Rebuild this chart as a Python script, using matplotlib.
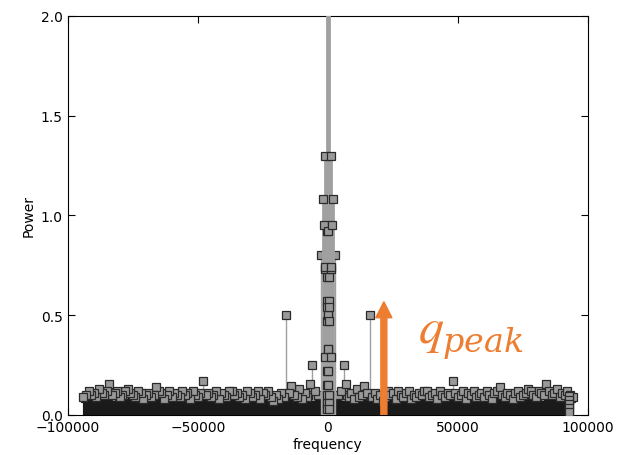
import matplotlib
matplotlib.use('Agg')
import matplotlib.pyplot as plt
import numpy as np

plt.rcParams['xtick.direction'] = 'in'
plt.rcParams['ytick.direction'] = 'in'
plt.rcParams['xtick.top'] = True
plt.rcParams['ytick.right'] = True

# positive half of the spectrum (it is mirrored to negative frequencies)
dc_power = 4.0
core_freq = [100, 120, 150, 180, 200, 220, 250, 280, 300, 320, 350, 380, 400, 450,
             1000, 1100, 1200, 1300, 1600, 1900]
core_pow = [2.6, 0.33, 0.50, 0.22, 0.92, 0.15, 0.69, 0.10, 0.57, 0.06, 0.54, 0.03, 0.47, 2.3,
            0.73, 1.30, 0.29, 0.74, 0.95, 1.08]
side_freq = [2800]
side_pow = [0.80]

noise_freq = list(range(4000, 95000, 1000))
noise_pow = [0.10, 0.12, 0.25, 0.155, 0.09, 0.11, 0.08, 0.13, 0.09, 0.10,
             0.145, 0.11, 0.50, 0.09, 0.11, 0.08, 0.10, 0.07, 0.09, 0.12,
             0.10, 0.11, 0.08, 0.12, 0.10, 0.09, 0.11, 0.12, 0.08, 0.10,
             0.09, 0.11, 0.10, 0.12, 0.12, 0.09, 0.10, 0.11, 0.08, 0.12,
             0.10, 0.09, 0.11, 0.10, 0.17, 0.11, 0.09, 0.10, 0.12, 0.08,
             0.11, 0.10, 0.12, 0.09, 0.10, 0.11, 0.09, 0.12, 0.10, 0.08,
             0.11, 0.12, 0.14, 0.10, 0.09, 0.11, 0.10, 0.08, 0.11, 0.12,
             0.09, 0.10, 0.11, 0.13, 0.12, 0.10, 0.09, 0.12, 0.11, 0.10,
             0.155, 0.12, 0.10, 0.11, 0.13, 0.09, 0.11, 0.10, 0.12, 0.10,
             0.09]

# second, lower layer of noise squares between the first ones
noise2_freq = list(range(4500, 94000, 1000))
noise2_pow = [0.08, 0.07, 0.09, 0.10, 0.075, 0.085, 0.095, 0.07, 0.09, 0.08,
              0.10, 0.075, 0.085, 0.09, 0.07, 0.095, 0.08, 0.085, 0.10, 0.07,
              0.09, 0.08, 0.095, 0.075, 0.085, 0.10, 0.07, 0.09, 0.08, 0.085,
              0.095, 0.07, 0.09, 0.08, 0.10, 0.075, 0.085, 0.09, 0.07, 0.095,
              0.08, 0.085, 0.10, 0.07, 0.09, 0.08, 0.095, 0.075, 0.085, 0.10,
              0.07, 0.09, 0.08, 0.085, 0.095, 0.07, 0.09, 0.08, 0.10, 0.075,
              0.085, 0.09, 0.07, 0.095, 0.08, 0.085, 0.10, 0.07, 0.09, 0.08,
              0.095, 0.075, 0.085, 0.10, 0.07, 0.09, 0.08, 0.085, 0.095, 0.07,
              0.09, 0.08, 0.10, 0.075, 0.085, 0.09, 0.07, 0.095, 0.08, 0.085]

# dense noise floor (envelope of the many tiny stems)
floor_freq = list(range(0, 96000, 2000))
floor_pow = [0.09, 0.08, 0.085, 0.07, 0.09, 0.075, 0.085, 0.08, 0.07, 0.09,
             0.08, 0.075, 0.085, 0.09, 0.07, 0.08, 0.085, 0.075, 0.09, 0.08,
             0.07, 0.085, 0.08, 0.09, 0.075, 0.08, 0.085, 0.07, 0.09, 0.08,
             0.075, 0.085, 0.08, 0.09, 0.07, 0.08, 0.085, 0.075, 0.09, 0.08,
             0.085, 0.07, 0.08, 0.09, 0.075, 0.085, 0.08, 0.08]

edge_freq = 92800
edge_pow = [0.095, 0.075, 0.055, 0.035, 0.015]

q_peak = 21500

orange = '#ED7D31'

fig = plt.figure(figsize=(6.27, 4.56), dpi=100)
ax = fig.add_axes([0.108, 0.088, 0.83, 0.875])

ff = np.array(floor_freq[:-1] + [94300])
fp = np.array(floor_pow)
ax.fill_between(np.concatenate([-ff[::-1], ff]), np.concatenate([fp[::-1], fp]),
                step='mid', color='#1a1a1a', lw=0, zorder=2.7)


def draw_stems(x, y, z, lw=1.0, zline=None):
    markers, stems, base = ax.stem(x, y, linefmt='-', markerfmt='s', basefmt=' ')
    stems.set_color('#a0a0a0')
    stems.set_linewidth(lw)
    stems.set_zorder(z if zline is None else zline)
    markers.set_markersize(6)
    markers.set_markerfacecolor('#999999')
    markers.set_markeredgecolor('#2a2a2a')
    markers.set_markeredgewidth(0.9)
    markers.set_zorder(z + 0.5)


def mirror(f, p):
    f = np.array(f)
    p = np.array(p)
    return np.concatenate([-f, f]), np.concatenate([p, p])


draw_stems(*mirror(noise2_freq, noise2_pow), 2, zline=0.5)
draw_stems(*mirror(noise_freq, noise_pow), 2.5, zline=0.6)
draw_stems([edge_freq] * len(edge_pow), edge_pow, 3.4)
draw_stems(*mirror(side_freq, side_pow), 3)

cf, cp = mirror(core_freq, core_pow)
draw_stems(np.append(cf, 0), np.append(cp, dc_power), 3.6, lw=2.0)

ax.arrow(q_peak, 0, 0, 0.567, width=2300, head_width=6200, head_length=0.08,
         length_includes_head=True, color=orange, zorder=5)
ax.text(34600, 0.366, r'$q$', color=orange, fontsize=36, va='baseline',
        math_fontfamily='stix', zorder=6)
ax.text(43800, 0.32, r'$peak$', color=orange, fontsize=24, va='baseline',
        math_fontfamily='dejavuserif', zorder=6)

ax.set_xlim(-100000, 100000)
ax.set_ylim(0, 2.0)
ax.set_xticks([-100000, -50000, 0, 50000, 100000])
ax.set_yticks([0.0, 0.5, 1.0, 1.5, 2.0])
ax.tick_params(labelsize=10, length=5)
ax.set_xlabel('frequency', fontsize=10, labelpad=2)
ax.set_ylabel('Power', fontsize=10)

fig.savefig('out.png', dpi=100)
